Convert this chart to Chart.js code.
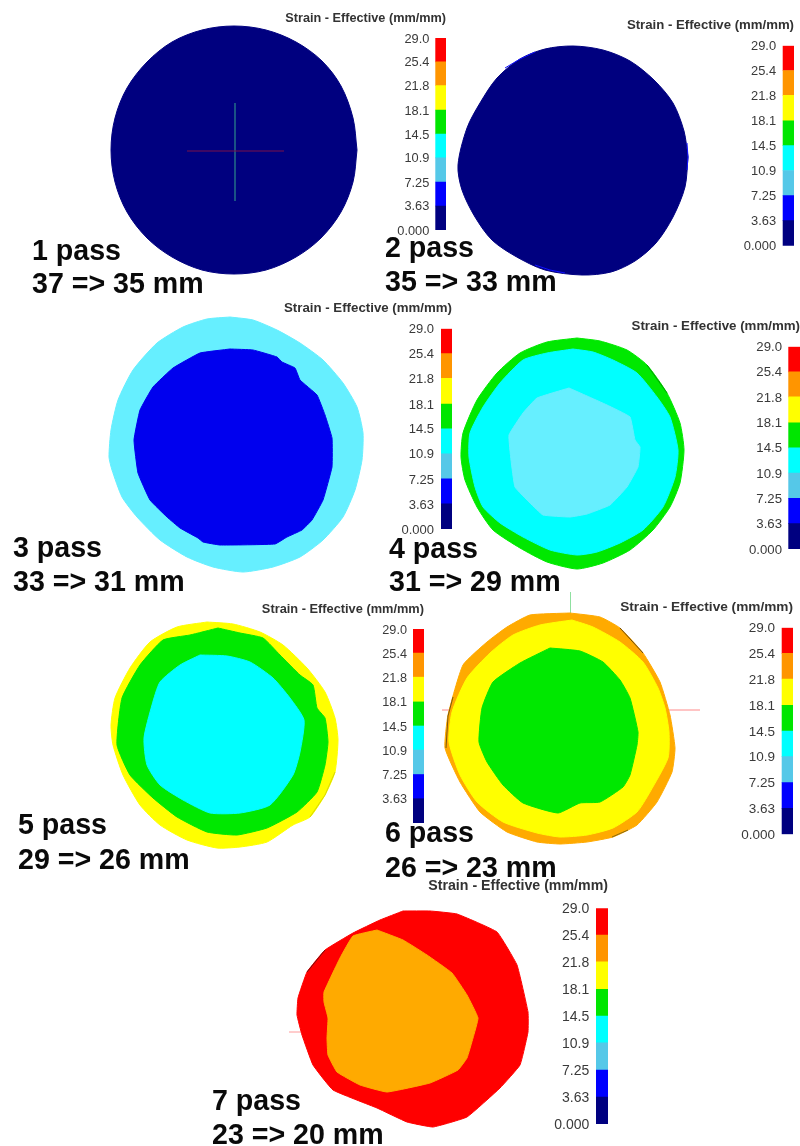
<!DOCTYPE html>
<html>
<head>
<meta charset="utf-8">
<script src="https://cdn.jsdelivr.net/npm/chart.js@4"></script>
<style>
html,body{margin:0;padding:0;background:#fff;}
#page{position:relative;width:800px;height:1146px;overflow:hidden;background:#fff;}
canvas{position:absolute;}
.pass{position:absolute;font:bold 28.6px "Liberation Sans",Arial,sans-serif;line-height:1;color:#0a0a0a;white-space:nowrap;transform:translateY(-50%);}
</style>
</head>
<body>
<div id="page"><canvas id="stage" width="800" height="1146" style="left:0;top:0"></canvas></div>
<script>
// ---- data ----
const tickValues = [0, 3.63, 7.25, 10.9, 14.5, 18.1, 21.8, 25.4, 29];
const tickLabels = ["0.000", "3.63", "7.25", "10.9", "14.5", "18.1", "21.8", "25.4", "29.0"];
const bandColors = ["#000080", "#0000ff", "#55c8e8", "#00ffff", "#00e600", "#ffff00", "#ff9500", "#ff0000"];
const scaleTitle = "Strain - Effective (mm/mm)";
const passNames = ["1 pass", "2 pass", "3 pass", "4 pass", "5 pass", "6 pass", "7 pass"];
const passSizes = ["37 => 35 mm", "35 => 33 mm", "33 => 31 mm", "31 => 29 mm", "29 => 26 mm", "26 => 23 mm", "23 => 20 mm"];

const navy = "#00007f", blue = "#0000ee", pale = "#66efff", cyan = "#00ffff", green = "#00e800", yellow = "#ffff00", orange = "#ffaa00", red = "#ff0000";

const pass1Outer = [[357,150],[353,118],[341,86],[322,61],[296,42],[266,30],[234,26],[202,30],[172,42],[147,62],[127,88],[115,118],[111,150],[115,182],[127,212],[147,238],[172,257],[202,270],[234,274],[266,270],[296,257],[321,238],[341,212],[353,182]];
const pass2Outer = [[688,157],[684,131],[673,103],[654,80],[630,61],[603,50],[573,46],[545,49],[520,59],[497,78],[480,103],[467,128],[458,165],[462,190],[475,217],[492,240],[515,256],[545,270],[582,275],[611,272],[635,261],[656,243],[673,217],[685,187]];
const pass3Outer = [[230,317],[253,320],[277,330],[300,343],[323,360],[343,383],[357,407],[363,433],[362,460],[355,490],[343,517],[323,540],[300,557],[273,567],[243,572],[213,567],[187,557],[160,540],[137,517],[122,497],[112,470],[109,457],[111,430],[118,400],[133,370],[157,343],[183,327],[207,319]];
const pass3Inner = [[230,349],[253,350],[277,357],[282,362],[295,368],[300,380],[317,395],[325,415],[332,438],[332,467],[323,500],[312,520],[302,530],[287,537],[275,544],[220,545],[203,542],[198,538],[180,528],[167,517],[150,500],[138,473],[134,440],[140,410],[153,387],[173,368],[200,353]];
const pass4Outer = [[577,338],[600,341],[627,350],[647,365],[667,393],[680,423],[684,450],[680,483],[670,507],[653,530],[630,550],[603,563],[577,569],[547,562],[520,548],[493,530],[477,507],[465,480],[461,457],[463,433],[477,400],[497,373],[520,353],[547,342]];
const pass4Mid = [[573,349],[593,352],[613,360],[637,373],[657,397],[670,417],[678,450],[675,477],[663,507],[643,530],[620,543],[597,552],[577,555],[550,550],[523,537],[500,523],[483,507],[475,487],[469,457],[470,433],[483,407],[500,383],[523,360],[547,353]];
const pass4Inner = [[569,388],[587,396],[607,405],[630,417],[635,440],[640,447],[638,467],[627,487],[610,505],[587,514],[570,517],[543,515],[530,503],[515,487],[511,460],[509,435],[523,413],[537,398]];
const pass5Outer = [[207,622],[233,624],[260,632],[283,645],[307,668],[325,692],[335,718],[338,740],[335,772],[325,795],[310,817],[293,825],[267,842],[240,847],[217,848],[187,840],[160,825],[140,805],[123,775],[113,745],[111,725],[115,698],[130,668],[150,642],[177,627]];
const pass5Mid = [[218,628],[240,633],[263,638],[280,655],[300,675],[313,685],[317,708],[325,718],[328,742],[325,765],[317,792],[297,812],[267,828],[237,835],[207,832],[177,817],[153,798],[130,775],[117,745],[122,698],[140,665],[163,640],[190,635]];
const pass5Inner = [[200,655],[227,656],[250,662],[273,678],[290,698],[304,720],[300,752],[293,775],[270,805],[240,813],[210,813],[183,800],[160,785],[147,765],[144,738],[152,705],[160,682],[180,665]];
const pass6Outer = [[570,613],[600,617],[620,628],[643,653],[660,682],[670,715],[675,748],[672,772],[657,802],[637,825],[613,837],[587,842],[560,844],[537,842],[507,832],[480,812],[460,782],[445,748],[448,715],[463,665],[487,642],[507,627],[530,615]];
const pass6Mid = [[572,620],[593,627],[620,642],[643,662],[658,688],[665,708],[669,732],[668,758],[650,792],[637,812],[613,828],[587,835],[560,837],[537,833],[503,822],[477,802],[460,775],[449,742],[452,712],[467,678],[490,653],[513,635],[540,625]];
const pass6Inner = [[550,648],[580,651],[603,662],[620,680],[630,698],[638,732],[637,745],[630,775],[623,787],[600,802],[580,803],[558,813],[523,803],[503,785],[487,762],[479,742],[482,708],[493,682],[520,663]];
const pass7Outer = [[403,911],[430,911],[457,914],[497,932],[517,965],[528,1012],[528,1032],[520,1065],[500,1088],[467,1117],[433,1127],[407,1122],[377,1108],[333,1090],[313,1065],[302,1035],[297,1015],[298,998],[307,972],[325,950],[353,933],[380,920]];
const pass7Inner = [[377,930],[403,940],[427,955],[452,973],[467,995],[478,1018],[473,1038],[467,1058],[458,1070],[430,1083],[387,1092],[360,1085],[337,1072],[328,1055],[327,1038],[328,1018],[324,1002],[324,992],[340,958],[353,936]];

const axisLinesBehind = [
  {pts: [[442,710],[700,710]], color: "#ff8a8a"},
  {pts: [[570.5,592],[570.5,614]], color: "#8fe0a0"},
  {pts: [[289,1032],[301,1032]], color: "#ff9a9a"}
];
const axisLinesFront = [
  {pts: [[187,151],[284,151]], color: "#7a1048"},
  {pts: [[235,103],[235,201]], color: "#1f5f86"}
];
const edgeLines = [
  {pts: [[620,628],[643,653]], color: "#6a4a10"},
  {pts: [[446,748],[448,716],[453,697]], color: "#7a5a10"},
  {pts: [[612,837],[628,830]], color: "#8a6a10"},
  {pts: [[307,972],[325,950]], color: "#701010"},
  {pts: [[310,817],[325,795],[335,772]], color: "#d8d800"},
  {pts: [[647,365],[667,393]], color: "#00a000"},
  {pts: [[505,68],[520,59],[535,52]], color: "#1010ff"},
  {pts: [[687,143],[688,157],[687,170]], color: "#1010ff"},
  {pts: [[535,265],[550,270],[565,273]], color: "#1010ff"}
];
const contours = [
  [pass1Outer, navy, .33], [pass2Outer, navy, .3], [pass3Outer, pale, .2], [pass3Inner, blue, .1],
  [pass4Outer, green, .2], [pass4Mid, cyan, .2], [pass4Inner, pale, .1],
  [pass5Outer, yellow, .2], [pass5Mid, green, .15], [pass5Inner, cyan, .2],
  [pass6Outer, orange, .15], [pass6Mid, yellow, .2], [pass6Inner, green, .15],
  [pass7Outer, red, .1], [pass7Inner, orange, .1]
];

// ---- layout ----
const barLayout = [
  {left:284, right:445.7, barLeft:435,   titleY:19,  top:38,    bottom:230,   tf:12.7, lf:12.8, pad:6, skipZero:false},
  {left:625, right:793.7, barLeft:782.3, titleY:25,  top:45.7,  bottom:245.7, tf:13.2, lf:12.9, pad:6.5, skipZero:false},
  {left:284, right:452,   barLeft:441,   titleY:308, top:328.7, bottom:529,   tf:13.3, lf:13,   pad:7, skipZero:false},
  {left:630, right:800,   barLeft:788.3, titleY:326, top:346.7, bottom:549,   tf:13.3, lf:13.2, pad:6.3, skipZero:false},
  {left:261, right:424,   barLeft:413,   titleY:610, top:629,   bottom:823,   tf:12.8, lf:12.7, pad:6, skipZero:true},
  {left:620, right:792.7, barLeft:781.3, titleY:607, top:627.7, bottom:834.3, tf:13.65,lf:13.5, pad:6.6, skipZero:false},
  {left:426, right:607.7, barLeft:595.7, titleY:887, top:908.3, bottom:1124,  tf:14.2, lf:14,   pad:6.7, skipZero:false}
];
const passLayout = [
  {x:32, y1:250, y2:283}, {x:385, y1:247, y2:281}, {x:13, y1:547, y2:581},
  {x:389, y1:548, y2:581}, {x:18, y1:824, y2:859}, {x:385, y1:832, y2:867},
  {x:212, y1:1100, y2:1134}
];
const FONT = '"Liberation Sans", Arial, sans-serif';
const BOTTOM_GAP = 20;
Chart.defaults.animation = false;
Chart.defaults.responsive = false;
Chart.defaults.events = [];

// ---- contour stage ----
function lineSet(pts, color, order) {
  return {type:"scatter", data: pts.map(p => ({x:p[0], y:p[1]})), showLine:true, pointRadius:0,
          borderColor:color, borderWidth:1, fill:false, tension:0, order:order};
}
function shapeSet(pts, color, tension, order) {
  const closed = pts.concat([pts[0]]);
  return {type:"scatter", data: closed.map(p => ({x:p[0], y:p[1]})), showLine:true, pointRadius:0,
          borderColor:color, backgroundColor:color, borderWidth:1, fill:"shape", tension:tension, order:order};
}
const stageSets = [];
axisLinesBehind.forEach(l => stageSets.push(lineSet(l.pts, l.color, 1000)));
contours.forEach((c, i) => stageSets.push(shapeSet(c[0], c[1], c[2], 500 - i)));
edgeLines.forEach(l => stageSets.push(lineSet(l.pts, l.color, 1)));
axisLinesFront.forEach(l => stageSets.push(lineSet(l.pts, l.color, 0)));
new Chart(document.getElementById("stage"), {
  type:"scatter",
  data:{datasets:stageSets},
  options:{
    layout:{padding:0},
    plugins:{legend:{display:false}, tooltip:{enabled:false}, title:{display:false}},
    scales:{
      x:{type:"linear", min:0, max:800, display:false},
      y:{type:"linear", min:0, max:1146, reverse:true, display:false}
    }
  }
});

// ---- colour bars ----
const page = document.getElementById("page");
barLayout.forEach(b => {
  const cv = document.createElement("canvas");
  const topOffset = Math.round(b.titleY - b.tf * 0.6);
  cv.width = Math.round(b.right - b.left);
  cv.height = Math.round(b.bottom + BOTTOM_GAP - topOffset);
  cv.style.left = (b.right - cv.width) + "px";
  cv.style.top = topOffset + "px";
  page.appendChild(cv);
  const barW = b.right - b.barLeft;
  new Chart(cv, {
    type:"bar",
    data:{
      labels:["strain"],
      datasets: bandColors.map((c, i) => ({
        data:[[tickValues[i], tickValues[i+1]]], backgroundColor:c, borderWidth:0,
        barPercentage:1, categoryPercentage:1, grouped:false
      }))
    },
    options:{
      layout:{padding:{top:0, left:0, right:0, bottom:cv.height - (b.bottom - topOffset)}},
      plugins:{
        legend:{display:false}, tooltip:{enabled:false},
        title:{display:true, text:scaleTitle, align:"end", color:"#333",
               font:{family:FONT, weight:"bold", size:b.tf, lineHeight:1.2},
               padding:{top:0, bottom:(b.top - topOffset) - b.tf * 1.2}}
      },
      scales:{
        x:{type:"category", display:false, offset:true},
        y:{
          type:"linear", min:0, max:29,
          afterBuildTicks: s => { s.ticks = tickValues.map(v => ({value:v})); },
          afterFit: s => { s.width = cv.width - barW; },
          grid:{display:false, drawTicks:false}, border:{display:false},
          ticks:{
            autoSkip:false, color:"#3a3a3a", padding:b.pad, labelOffset:1,
            font:{family:FONT, size:b.lf},
            callback: v => (b.skipZero && v === 0) ? "" : tickLabels[tickValues.indexOf(v)]
          }
        }
      }
    }
  });
});

// ---- pass captions ----
passLayout.forEach((p, i) => {
  [[passNames[i], p.y1], [passSizes[i], p.y2]].forEach(t => {
    const d = document.createElement("div");
    d.className = "pass";
    d.textContent = t[0];
    d.style.left = p.x + "px";
    d.style.top = t[1] + "px";
    page.appendChild(d);
  });
});
</script>
</body>
</html>
